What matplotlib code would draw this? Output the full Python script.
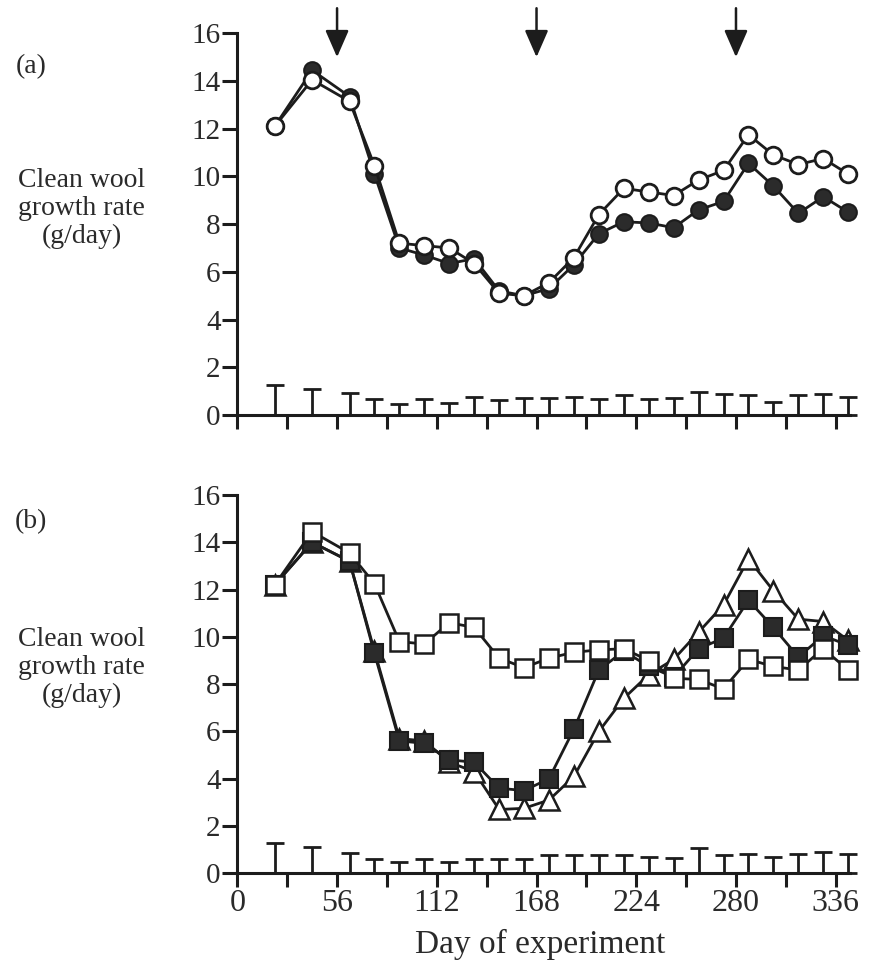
import matplotlib
matplotlib.use('Agg')
import matplotlib.pyplot as plt
from matplotlib.ticker import MultipleLocator

plt.rcParams['font.family'] = ['Liberation Serif', 'DejaVu Serif']

# sampling days (shared by both panels)
days = [21, 42, 63, 77, 91, 105, 119, 133, 147, 161, 175, 189, 203, 217,
        231, 245, 259, 273, 287, 301, 315, 329, 343]
arrow_days = [56, 168, 280]
x_ticks = [0, 56, 112, 168, 224, 280, 336]
y_ticks = [0, 2, 4, 6, 8, 10, 12, 14, 16]

# panel (a)
open_a = [12.1, 14.05, 13.15, 10.45, 7.2, 7.1, 7.0, 6.35, 5.1, 5.0, 5.55, 6.6,
          8.4, 9.5, 9.35, 9.2, 9.85, 10.25, 11.75, 10.9, 10.5, 10.75, 10.1]
filled_a = [12.1, 14.45, 13.35, 10.1, 7.0, 6.7, 6.35, 6.55, 5.2, 5.0, 5.3, 6.3,
            7.6, 8.1, 8.05, 7.85, 8.6, 8.95, 10.55, 9.6, 8.45, 9.15, 8.5]
se_a = [1.26, 1.08, 0.91, 0.67, 0.46, 0.66, 0.49, 0.74, 0.63, 0.70, 0.70, 0.74,
        0.67, 0.84, 0.67, 0.70, 0.98, 0.87, 0.84, 0.56, 0.84, 0.87, 0.77]

# panel (b)
open_b = [12.2, 14.45, 13.55, 12.25, 9.8, 9.7, 10.6, 10.4, 9.1, 8.7, 9.1, 9.35,
          9.45, 9.5, 9.0, 8.25, 8.2, 7.8, 9.05, 8.75, 8.6, 9.5, 8.6]
filled_b = [12.2, 14.0, 13.2, 9.3, 5.6, 5.5, 4.8, 4.7, 3.6, 3.5, 4.0, 6.1,
            8.6, 9.4, 8.75, 8.3, 9.5, 9.95, 11.55, 10.4, 9.15, 10.05, 9.65]
tri_b = [12.2, 14.0, 13.2, 9.4, 5.7, 5.6, 4.7, 4.3, 2.7, 2.75, 3.1, 4.1,
         6.0, 7.4, 8.4, 9.05, 10.2, 11.35, 13.3, 11.95, 10.75, 10.65, 9.85]
se_b = [1.27, 1.10, 0.84, 0.59, 0.49, 0.59, 0.49, 0.59, 0.59, 0.59, 0.77, 0.77,
        0.77, 0.77, 0.68, 0.63, 1.06, 0.77, 0.82, 0.68, 0.82, 0.91, 0.82]

ink = '#1c1c1c'
txt = '#2a2a2a'
fs = 20

fig = plt.figure(figsize=(8.69, 9.68), dpi=100)
ax_a = fig.add_axes([0.2731, 0.5713, 0.705, 0.3943])
ax_b = fig.add_axes([0.2731, 0.0978, 0.705, 0.3908])


def style_axes(ax, show_xlabels):
    ax.set_xlim(0, 344)
    ax.set_ylim(0, 16)
    for side in ['top', 'right']:
        ax.spines[side].set_visible(False)
    for side in ['left', 'bottom']:
        ax.spines[side].set_linewidth(2.2)
        ax.spines[side].set_color(ink)
    ax.set_xticks(x_ticks)
    ax.xaxis.set_minor_locator(MultipleLocator(28))
    ax.set_yticks(y_ticks)
    ax.tick_params(axis='both', which='both', direction='out', width=2.2,
                   color=ink, labelcolor=txt)
    ax.tick_params(axis='y', length=11, labelsize=21, pad=1)
    ax.tick_params(axis='x', which='both', length=10, labelsize=23, pad=1)
    ax.tick_params(axis='x', labelbottom=show_xlabels)


def error_bars(ax, se):
    zeros = [0] * len(se)
    ax.errorbar(days, zeros, yerr=[zeros, se], fmt='none', ecolor=ink,
                elinewidth=2, capsize=6.5, capthick=2, clip_on=False)


# (a)
style_axes(ax_a, False)
error_bars(ax_a, se_a)
ax_a.plot(days, filled_a, '-o', color=ink, lw=2, ms=12, mfc='#2b2b2b',
          mec=ink, mew=1.5, clip_on=False)
ax_a.plot(days, open_a, '-o', color=ink, lw=2, ms=12, mfc='white',
          mec=ink, mew=2, clip_on=False)
for d in arrow_days:
    ax_a.annotate('', xy=(d, 15.0), xytext=(d, 17.05), annotation_clip=False,
                  arrowprops=dict(arrowstyle='-|>,head_length=1.65,head_width=0.72',
                                  mutation_scale=10, color=ink, lw=1.8,
                                  shrinkA=0, shrinkB=0))

# (b)
style_axes(ax_b, True)
error_bars(ax_b, se_b)
ax_b.plot(days, tri_b, '-^', color=ink, lw=2, ms=14, mfc='white',
          mec=ink, mew=1.8, clip_on=False)
ax_b.plot(days, filled_b, '-s', color=ink, lw=2, ms=12.5, mfc='#2b2b2b',
          mec=ink, mew=1.5, clip_on=False)
ax_b.plot(days, open_b, '-s', color=ink, lw=2, ms=12.5, mfc='white',
          mec=ink, mew=1.8, clip_on=False)

ylab = 'Clean wool\ngrowth rate\n(g/day)'
fig.text(0.094, 0.785, ylab, ha='center', va='center', fontsize=fs,
         linespacing=1.15, color=txt)
fig.text(0.094, 0.31, ylab, ha='center', va='center', fontsize=fs,
         linespacing=1.15, color=txt)
fig.text(0.036, 0.931, '(a)', ha='center', va='center', fontsize=fs, color=txt)
fig.text(0.036, 0.461, '(b)', ha='center', va='center', fontsize=fs, color=txt)
fig.text(0.622, 0.024, 'Day of experiment', ha='center', va='center',
         fontsize=24, color=txt)

fig.savefig('out.png', dpi=100)
